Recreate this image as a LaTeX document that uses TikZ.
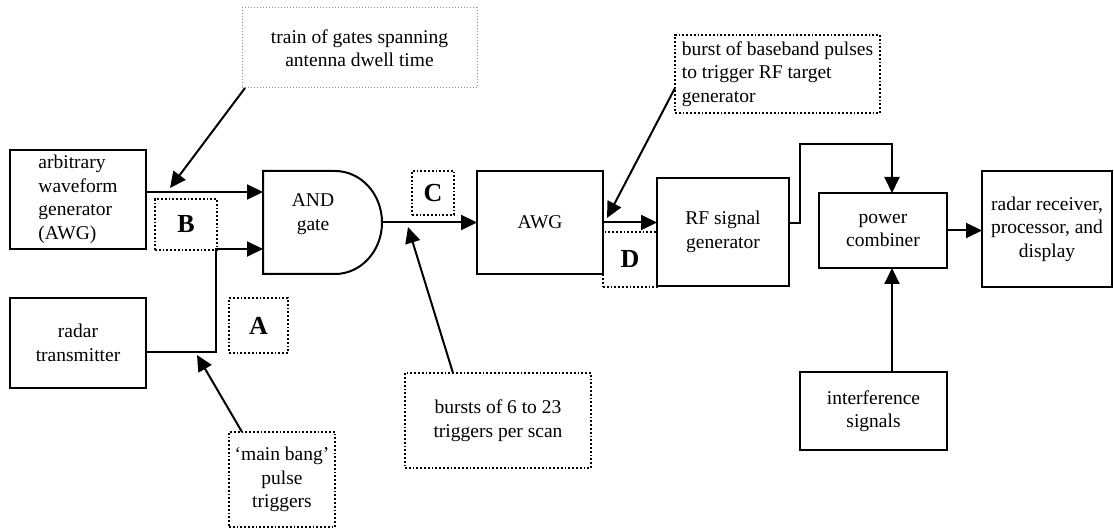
\documentclass[tikz,border=0pt]{standalone}
\usepackage{fontspec}
\setmainfont{Liberation Serif}
\usetikzlibrary{arrows.meta}
\begin{document}
\begin{tikzpicture}[x=1pt,y=-1pt,
 every node/.style={font=\fontsize{19.5}{23.5}\selectfont, inner sep=0pt, outer sep=0pt},
 blk/.style={draw, line width=2pt, align=center},
 dbox/.style={draw, dotted, line width=1.8pt, align=center},
 gbox/.style={draw=black!45, dotted, line width=1pt, align=center},
 lbl/.style={dbox, font=\fontsize{26}{26}\selectfont\bfseries},
 arr/.style={line width=2pt, -{Triangle[length=16pt,width=15pt]}},
 ln/.style={line width=2pt}]
\useasboundingbox (0,0) rectangle (1114,529);
% blocks
\node[blk, minimum width=136, minimum height=99, align=left] (awg1) at (78,199.5) {arbitrary\\waveform\\generator\\(AWG)};
\node[blk, minimum width=136, minimum height=90] (tx) at (78,343) {radar\\transmitter};
\node[blk, minimum width=126, minimum height=103] (awg2) at (540,222.5) {AWG};
\node[blk, minimum width=132, minimum height=108] (rf) at (723,232) {RF signal\\generator};
\node[blk, minimum width=128, minimum height=75] (pc) at (883,230.5) {power\\combiner};
\node[blk, minimum width=130, minimum height=116] (rx) at (1047,229) {radar receiver,\\processor, and\\display};
\node[blk, minimum width=147, minimum height=78] (int) at (873.5,411) {interference\\signals};
% AND gate
\node[minimum width=119, minimum height=103] (and) at (322.5,222.5) {};
\draw[line width=2pt] (and.north west) -- (335,171) arc[start angle=-90, end angle=90, x radius=47, y radius=51.5] -- (and.south west) -- cycle;
\node[align=center] (andtxt) at (313,214) {AND\\gate};
% labels
\node[lbl, minimum width=62, minimum height=51] (B) at (186,224.5) {B};
\node[lbl, minimum width=59, minimum height=55] (A) at (258.5,325.5) {A};
\node[lbl, minimum width=42, minimum height=44] (C) at (433,193) {C};
\node[lbl, minimum width=54, minimum height=55] (D) at (630,259.5) {D};
% annotations
\node[gbox, minimum width=235, minimum height=80] (train) at (359.5,48) {train of gates spanning\\antenna dwell time};
\node[dbox, minimum width=205, minimum height=78, align=left] (burst) at (777.5,74) {burst of baseband pulses\\to trigger RF target\\generator};
\node[dbox, minimum width=186, minimum height=95] (b6) at (498,420.5) {bursts of 6 to 23\\triggers per scan};
\node[dbox, minimum width=106, minimum height=95] (mb) at (282,479.5) {‘main bang’\\pulse\\triggers};
% coordinates
\coordinate (in1) at (263,192);
\coordinate (in2) at (263,249);
\coordinate (jn) at (216,249);
\coordinate (andout) at (382,222.5);
\coordinate (r1) at (800,144);
\coordinate (pcn) at ([xshift=9pt]pc.north);
\coordinate (pcs) at ([xshift=9pt]pc.south);
\coordinate (tB) at (170,188);
\coordinate (tD) at (607,218);
\coordinate (tC) at (408,227);
\coordinate (tA) at (197,355);
% connectors
\draw[arr] (awg1.east |- in1) -- (in1);
\draw[arr] ([yshift=-9pt]tx.east) -| (jn) -- (in2);
\draw[arr] (andout) -- (awg2.west);
\draw[arr] (awg2.east) -- (awg2.east -| rf.west);
\draw[arr] ([yshift=9pt]rf.east) -| (r1) -| (pcn);
\draw[arr] (pcs |- int.north) -- (pcs);
\draw[arr] (pc.east) -- (pc.east -| rx.west);
% annotation arrows
\draw[arr] ([xshift=3pt]train.south west) -- (tB);
\draw[arr] ([yshift=-14pt]burst.west) -- (tD);
\draw[arr] ([xshift=-45pt]b6.north) -- (tC);
\draw[arr] ([xshift=-40pt]mb.north) -- (tA);
\end{tikzpicture}
\end{document}
